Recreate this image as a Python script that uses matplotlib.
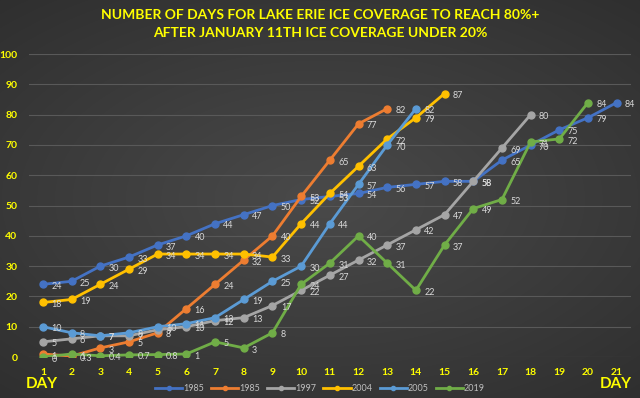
import numpy as np
import matplotlib.pyplot as plt

days = list(range(1, 22))

s1985a = [24, 25, 30, 33, 37, 40, 44, 47, 50, 52, 53, 54, 56, 57, 58, 58, 65, 70, 75, 79, 84]
s1985b = [1, 0.3, 3, 5, 8, 16, 24, 32, 40, 53, 65, 77, 82]
s1997 = [5, 6, 7, 7, 9, 10, 12, 13, 17, 22, 27, 32, 37, 42, 47, 58, 69, 80]
s2004 = [18, 19, 24, 29, 34, 34, 34, 34, 33, 44, 54, 63, 72, 79, 87]
s2005 = [10, 8, 7, 8, 10, 11, 13, 19, 25, 30, 44, 57, 70, 82]
s2019 = [0, 1, 0.4, 0.7, 0.8, 1, 5, 3, 8, 24, 31, 40, 31, 22, 37, 49, 52, 71, 72, 84]

series = [
    ('1985', s1985a, '#4472C4'),
    ('1985', s1985b, '#ED7D31'),
    ('1997', s1997, '#A5A5A5'),
    ('2004', s2004, '#FFC000'),
    ('2005', s2005, '#5B9BD5'),
    ('2019', s2019, '#70AD47'),
]

yticks = list(range(0, 101, 10))
yellow = '#FFFF00'

plt.rcParams['font.family'] = ['Lato', 'DejaVu Sans']

fig = plt.figure(figsize=(6.4, 3.98), dpi=100)

# radial gradient background
bg = fig.add_axes([0, 0, 1, 1])
gx, gy = np.meshgrid(np.linspace(-1, 1, 640), np.linspace(-1, 1, 398))
r = np.sqrt((gx * 0.9) ** 2 + (gy * 1.0) ** 2)
shade = 0.29 - 0.11 * np.clip(r, 0, 1.4) / 1.4
bg.imshow(np.dstack([shade, shade, shade]), aspect='auto', extent=[0, 1, 0, 1])
bg.axis('off')

ax = fig.add_axes([0.0447, 0.103, 0.9413, 0.761])
ax.patch.set_alpha(0)

for name, vals, col in series:
    x = days[:len(vals)]
    ax.plot(x, vals, color=col, lw=2, marker='o', ms=5, label=name, zorder=3)
    for xi, v in zip(x, vals):
        txt = '%g' % v
        ax.annotate(txt, (xi, v), xytext=(6, -1.5), textcoords='offset points',
                    fontsize=6.5, color='#d9d9d9', va='center', ha='left', zorder=4)

ax.set_xlim(0.5, 21.5)
ax.set_ylim(0, 100)
ax.set_yticks(yticks)
ax.set_xticks(days)
ax.grid(axis='y', color='#595959', lw=0.8)
ax.set_axisbelow(True)
for s in ax.spines.values():
    s.set_visible(False)
ax.tick_params(length=0, colors=yellow, labelsize=7.5)
ax.tick_params(axis='y', pad=8)
ax.tick_params(axis='x', pad=8)
for lab in ax.get_xticklabels() + ax.get_yticklabels():
    lab.set_fontweight('bold')
    lab.set_color(yellow)

leg = fig.legend(loc='center', bbox_to_anchor=(0.5, 0.023), ncol=6, frameon=False,
                 fontsize=6.5, handlelength=3, columnspacing=0.8, handletextpad=0.1,
                 markerscale=0.6)
for t in leg.get_texts():
    t.set_color('#bfbfbf')

fig.text(0.066, 0.035, 'DAY', color=yellow, fontsize=11, fontweight='bold', ha='center', va='center')
fig.text(0.962, 0.035, 'DAY', color=yellow, fontsize=11, fontweight='bold', ha='center', va='center')

fig.text(0.5, 0.962, 'NUMBER OF DAYS FOR LAKE ERIE ICE COVERAGE TO REACH 80%+',
         color=yellow, fontsize=10, fontweight='bold', ha='center', va='center')
fig.text(0.5, 0.918, 'AFTER JANUARY 11TH ICE COVERAGE UNDER 20%',
         color=yellow, fontsize=10, fontweight='bold', ha='center', va='center')

fig.savefig('out.png', dpi=100)
